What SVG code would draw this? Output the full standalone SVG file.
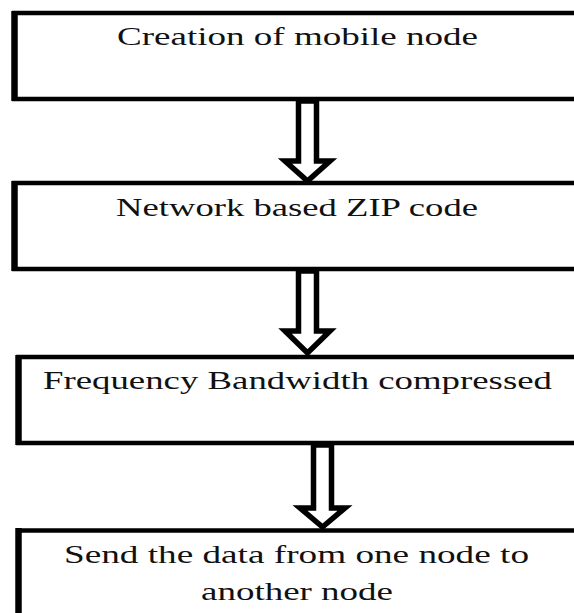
<svg xmlns="http://www.w3.org/2000/svg" width="574" height="613" viewBox="0 0 574 613">
<style>
.h{stroke:#000;stroke-width:4.5;fill:none}
.v{stroke:#000;stroke-width:6.5;fill:none}
.t{font-size:25px;fill:#111;text-anchor:middle}
.arr{fill:#fff;stroke:#000;stroke-width:5.5;stroke-linejoin:miter}
</style>
<rect width="574" height="613" fill="#fff"/>
<g id="connectors">
<polygon class="arr" points="298.5,101 316.5,101 316.5,161 330,161 307.5,181 285,161 298.5,161"/>
<polygon class="arr" points="298.5,271 316.5,271 316.5,331 330,331 307.5,353 285,331 298.5,331"/>
<polygon class="arr" points="313.5,445 331.5,445 331.5,508 345,508 322.5,527 300,508 313.5,508"/>
</g>
<g font-family="Liberation Serif, DejaVu Serif, serif">
<g id="node1">
<path class="h" d="M12,13 H580 M12,99 H580"/>
<path class="v" d="M14.5,11 V101"/>
<text class="t" x="297.5" y="45" textLength="361" lengthAdjust="spacingAndGlyphs">Creation of mobile node</text>
</g>
<g id="node2">
<path class="h" d="M12,183 H580 M12,269 H580"/>
<path class="v" d="M14.5,181 V271"/>
<text class="t" x="297" y="216" textLength="362" lengthAdjust="spacingAndGlyphs">Network based ZIP code</text>
</g>
<g id="node3">
<path class="h" d="M16,357 H580 M16,443 H580"/>
<path class="v" d="M18.5,355 V445"/>
<text class="t" x="297.5" y="389" textLength="509" lengthAdjust="spacingAndGlyphs">Frequency Bandwidth compressed</text>
</g>
<g id="node4">
<path class="h" d="M16,530.5 H580"/>
<path class="v" d="M18.5,528 V620"/>
<text class="t" x="296.5" y="563" textLength="465" lengthAdjust="spacingAndGlyphs">Send the data from one node to</text>
<text class="t" x="297" y="600" textLength="192" lengthAdjust="spacingAndGlyphs">another node</text>
</g>
</g>
</svg>
